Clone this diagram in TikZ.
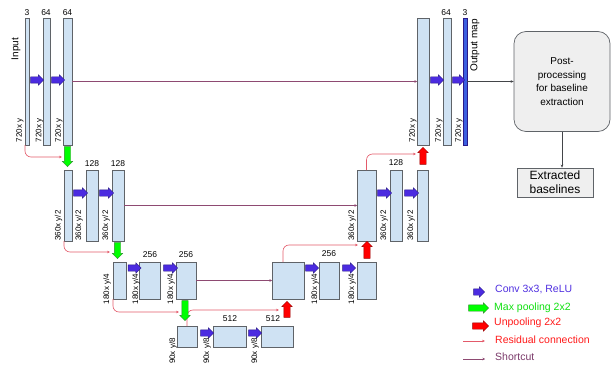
\documentclass[tikz,border=0pt]{standalone}
\usepackage{fontspec}
\setmainfont{Liberation Sans}
\usetikzlibrary{shapes.arrows,arrows.meta,positioning}
\definecolor{barblue}{HTML}{CFE2F3}
\definecolor{barline}{HTML}{5F6368}
\definecolor{convfill}{HTML}{4B2BE0}
\definecolor{convline}{HTML}{2A1A8A}
\definecolor{poolfill}{HTML}{00FF00}
\definecolor{poolline}{HTML}{2E8B2E}
\definecolor{unpoolfill}{HTML}{FF0000}
\definecolor{unpoolline}{HTML}{990000}
\definecolor{residcol}{HTML}{E35A6A}
\definecolor{shortcol}{HTML}{8E4A72}
\definecolor{outbar}{HTML}{3C5FE0}
\definecolor{convtext}{HTML}{4F2FE0}
\definecolor{pooltext}{HTML}{10E010}
\definecolor{unpooltext}{HTML}{FF1A1A}
\definecolor{shorttext}{HTML}{7B3A6A}
\definecolor{boxfill}{HTML}{EFEFEF}
\newcommand{\shaftrule}{\rule{0pt}{6pt}}
\begin{document}
\begin{tikzpicture}[x=1pt,y=1pt,
  fmap/.style={draw=barline, line width=0.7pt, fill=barblue, inner sep=0pt, outer sep=0pt},
  hone/.style={fmap, minimum height=127pt},
  htwo/.style={fmap, minimum height=71pt},
  hthree/.style={fmap, minimum height=37pt},
  hfour/.style={fmap, minimum height=21pt},
  blk/.style={single arrow, single arrow head extend=2pt, inner sep=0pt, line width=0.4pt},
  conv/.style={blk, fill=convfill, draw=convline},
  pool/.style={blk, fill=poolfill, draw=poolline},
  unpool/.style={blk, fill=unpoolfill, draw=unpoolline},
  resid/.style={draw=residcol, line width=0.6pt, -{Stealth[length=3pt,width=2.6pt]}, rounded corners=6pt},
  shortc/.style={draw=shortcol, line width=0.6pt, -{Stealth[length=2.5pt,width=2.5pt]}},
  numlab/.style={font=\fontsize{8.5}{10}\selectfont, inner sep=0pt},
  dimlab/.style={font=\fontsize{8}{9}\selectfont, rotate=90, inner sep=0pt},
  leg/.style={anchor=west, inner sep=0pt, font=\fontsize{10.5}{12}\selectfont}]
\useasboundingbox (0,0) rectangle (613,373);

% ---------- level 1 (left)
\node[hone, minimum width=4pt] (a1) at (27,291.5) {};
\node[hone, minimum width=7pt] (a2) at (46.5,291.5) {};
\node[hone, minimum width=9pt] (a3) at (67.5,291.5) {};
% ---------- level 2 (left)
\node[htwo, minimum width=8pt] (b1) at (68,167.5) {};
\node[htwo, minimum width=12pt] (b2) at (92,167.5) {};
\node[htwo, minimum width=12pt] (b3) at (118,167.5) {};
% ---------- level 3 (left)
\node[hthree, minimum width=13pt] (c1) at (119.5,92.5) {};
\node[hthree, minimum width=21pt] (c2) at (149.5,92.5) {};
\node[hthree, minimum width=20pt] (c3) at (186,92.5) {};
% ---------- level 4
\node[hfour, minimum width=20pt] (d1) at (187,36.5) {};
\node[hfour, minimum width=33pt] (d2) at (229.5,36.5) {};
\node[hfour, minimum width=32pt] (d3) at (277,36.5) {};
% ---------- level 3 (right)
\node[hthree, minimum width=32pt] (e1) at (288,92.5) {};
\node[hthree, minimum width=20pt] (e2) at (329,92.5) {};
\node[hthree, minimum width=19pt] (e3) at (366.5,92.5) {};
% ---------- level 2 (right)
\node[htwo, minimum width=19pt] (f1) at (366.5,167.5) {};
\node[htwo, minimum width=12pt] (f2) at (396,167.5) {};
\node[htwo, minimum width=11pt] (f3) at (422.5,167.5) {};
% ---------- level 1 (right)
\node[hone, minimum width=12pt] (g1) at (423,291.5) {};
\node[hone, minimum width=8pt] (g2) at (447,291.5) {};
\node[hone, minimum width=4pt, fill=outbar, draw=convline] (g3) at (465,291.5) {};

% ---------- shortcuts
\draw[shortc] (a3.east) -- (g1.west);
\draw[shortc] (b3.east) -- (f1.west);
\draw[shortc] (c3.east) -- (e1.west);

% ---------- residual connections
\coordinate (r1e) at (62,216);
\coordinate (r2e) at (110,121);
\coordinate (r3e) at (179,61);
\coordinate (r4e) at (279,63);
\coordinate (r5e) at (358,128);
\coordinate (r6e) at (416,219);
\draw[resid] (a1.south west) |- (r1e);
\draw[resid] (b1.south west) |- (r2e);
\draw[resid] (c1.south west) |- (r3e);
\draw[resid] (d1.north) |- (r4e);
\draw[resid] ([xshift=-5pt]e1.north) |- (r5e);
\draw[resid] (f1.north) |- (r6e);

% ---------- conv arrows
\node[conv, minimum height=13pt] (k1) at (35.5,293) {\shaftrule};
\node[conv, minimum height=13pt] (k2) at (56.5,293) {\shaftrule};
\node[conv, minimum height=14pt] (k3) at (79,180) {\shaftrule};
\node[conv, minimum height=14pt] (k4) at (105,180) {\shaftrule};
\node[conv, minimum height=13pt] (k5) at (133,105) {\shaftrule};
\node[conv, minimum height=14pt] (k6) at (169,105) {\shaftrule};
\node[conv, minimum height=13pt] (k7) at (205.5,40) {\shaftrule};
\node[conv, minimum height=13pt] (k8) at (253.5,40) {\shaftrule};
\node[conv, minimum height=13pt] (k9) at (310.5,105) {\shaftrule};
\node[conv, minimum height=13pt] (k10) at (347.5,105) {\shaftrule};
\node[conv, minimum height=14pt] (k11) at (383,180) {\shaftrule};
\node[conv, minimum height=14pt] (k12) at (410,180) {\shaftrule};
\node[conv, minimum height=13pt] (k13) at (435.5,293) {\shaftrule};
\node[conv, minimum height=12pt] (k14) at (457,293) {\shaftrule};

% ---------- max pooling
\node[pool, minimum height=20pt, rotate=-90] (p1) at (67.5,218) {\shaftrule};
\node[pool, minimum height=16pt, rotate=-90] (p2) at (117.5,124) {\shaftrule};
\node[pool, minimum height=20pt, rotate=-90] (p3) at (185,64) {\shaftrule};

% ---------- unpooling
\node[unpool, minimum height=16pt, rotate=90] (u1) at (287,62) {\shaftrule};
\node[unpool, minimum height=17pt, rotate=90] (u2) at (367,121.5) {\shaftrule};
\node[unpool, minimum height=17pt, rotate=90] (u3) at (423,215.5) {\shaftrule};

% ---------- channel numbers
\node[numlab] (n1) at (27,360) {3};
\node[numlab] (n2) at (46,360) {64};
\node[numlab] (n3) at (67.5,360) {64};
\node[numlab] (n4) at (92,209) {128};
\node[numlab] (n5) at (118,209) {128};
\node[numlab] (n6) at (150,118) {256};
\node[numlab] (n7) at (186,118) {256};
\node[numlab] (n8) at (230,54) {512};
\node[numlab] (n9) at (273,54) {512};
\node[numlab] (n10) at (329,119) {256};
\node[numlab] (n11) at (396,210) {128};
\node[numlab] (n12) at (446,360) {64};
\node[numlab] (n13) at (465,360) {3};

% ---------- size labels
\node[dimlab] (s1) at (20,242.5) {720x y};
\node[dimlab] (s2) at (39.5,242.5) {720x y};
\node[dimlab] (s3) at (59,242.5) {720x y};
\node[dimlab] (s4) at (413,242.5) {720x y};
\node[dimlab] (s5) at (439,242.5) {720x y};
\node[dimlab] (s6) at (459,242.5) {720x y};
\node[dimlab] (s7) at (58.5,147.5) {360x y/2};
\node[dimlab] (s8) at (79,147.5) {360x y/2};
\node[dimlab] (s9) at (106,147.5) {360x y/2};
\node[dimlab] (s10) at (352,147.5) {360x y/2};
\node[dimlab] (s11) at (384,147.5) {360x y/2};
\node[dimlab] (s12) at (411,147.5) {360x y/2};
\node[dimlab] (s13) at (107,84) {180x y/4};
\node[dimlab] (s14) at (136,84) {180x y/4};
\node[dimlab] (s15) at (171,84) {180x y/4};
\node[dimlab] (s16) at (315,84) {180x y/4};
\node[dimlab] (s17) at (352,84) {180x y/4};
\node[dimlab] (s18) at (173,22) {90x y/8};
\node[dimlab] (s19) at (207,22) {90x y/8};
\node[dimlab] (s20) at (255,22) {90x y/8};

% ---------- titles
\node[rotate=90, inner sep=0pt, font=\fontsize{10}{12}\selectfont] (tin) at (16,324) {Input};
\node[rotate=90, inner sep=0pt, font=\fontsize{10}{12}\selectfont] (tout) at (475,327.5) {Output map};

% ---------- post-processing
\node[draw=barline, line width=0.7pt, fill=boxfill, rounded corners=12pt, minimum width=96pt, minimum height=100pt,
      align=center, font=\fontsize{10}{13.5}\selectfont] (post) at (562,291.5) {Post-\\processing\\for baseline\\extraction};
\node[draw=barline, line width=0.7pt, fill=boxfill, minimum width=76pt, minimum height=29pt, inner sep=1pt,
      align=center, font=\fontsize{12}{14}\selectfont] (extr) at (555,190.5) {Extracted\\baselines};
\draw[draw=barline!70!black, line width=0.6pt, -{Stealth[length=3pt,width=2.6pt]}] (g3.east) -- (post.west);
\draw[draw=barline!70!black, line width=0.6pt, -{Stealth[length=3pt,width=2.6pt]}] (post.south) -- (post.south |- extr.north);

% ---------- legend
\node[conv, minimum height=11pt] (lg1) at (477.5,81) {\shaftrule};
\node[pool, minimum height=20pt] (lg2) at (477,65) {\shaftrule};
\node[unpool, minimum height=16pt] (lg3) at (479,47) {\shaftrule};
\coordinate (lr1) at (463,32);
\coordinate (lr2) at (485,32);
\coordinate (ls1) at (463,14);
\coordinate (ls2) at (485,14);
\draw[resid] (lr1) -- (lr2);
\draw[shortc] (ls1) -- (ls2);
\node[leg, text=convtext] (lt1) at (495,83) {Conv 3x3, ReLU};
\node[leg, text=pooltext] (lt2) at (494,65) {Max pooling 2x2};
\node[leg, text=unpooltext] (lt3) at (494,50) {Unpooling 2x2};
\node[leg, text=unpooltext] (lt4) at (495,33) {Residual connection};
\node[leg, text=shorttext] (lt5) at (495,16) {Shortcut};
\end{tikzpicture}
\end{document}
